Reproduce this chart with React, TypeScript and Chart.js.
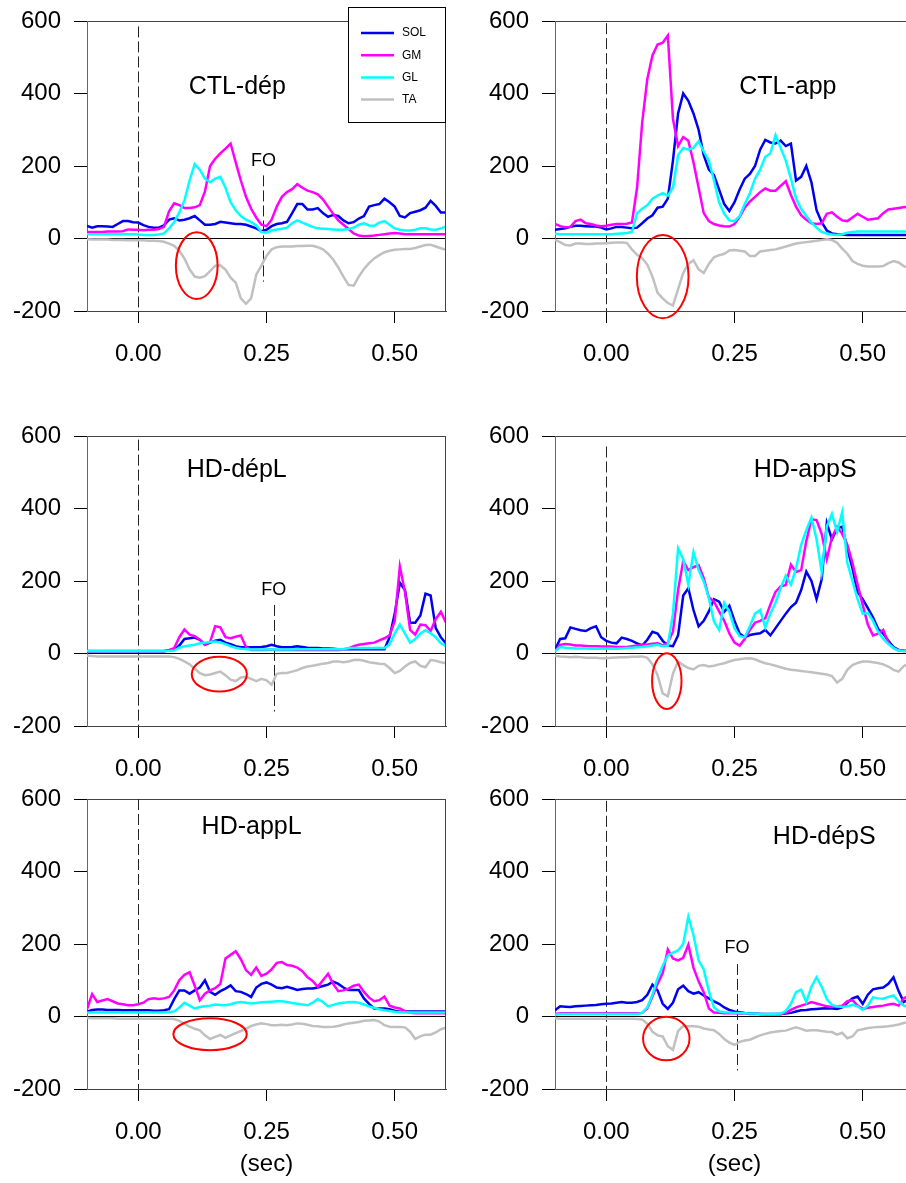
import React, { useEffect, useRef } from "react";
import { Chart, registerables } from "chart.js";

Chart.register(...registerables);

// ---------- data ----------
const TIME = [
  -0.10, -0.09, -0.08, -0.07, -0.06, -0.05, -0.04, -0.03, -0.02, -0.01,
  0.00, 0.01, 0.02, 0.03, 0.04, 0.05, 0.06, 0.07, 0.08, 0.09,
  0.10, 0.11, 0.12, 0.13, 0.14, 0.15, 0.16, 0.17, 0.18, 0.19,
  0.20, 0.21, 0.22, 0.23, 0.24, 0.25, 0.26, 0.27, 0.28, 0.29,
  0.30, 0.31, 0.32, 0.33, 0.34, 0.35, 0.36, 0.37, 0.38, 0.39,
  0.40, 0.41, 0.42, 0.43, 0.44, 0.45, 0.46, 0.47, 0.48, 0.49,
  0.50, 0.51, 0.52, 0.53, 0.54, 0.55, 0.56, 0.57, 0.58, 0.59,
  0.60,
];
const X_TICKS = [0, 0.25, 0.5];
const MUSCLES = ["SOL", "GM", "GL", "TA"];

// CTL-dép
const CTL_DEP_SOL = [
  35, 30, 34, 34, 33, 32, 40, 48, 48, 45,
  44, 37, 32, 30, 30, 36, 52, 56, 50, 52,
  56, 62, 50, 38, 38, 40, 46, 44, 42, 40,
  40, 38, 33, 28, 20, 24, 34, 40, 42, 46,
  70, 95, 95, 80, 80, 84, 70, 60, 65, 62,
  50, 42, 45, 55, 62, 88, 92, 95, 110, 100,
  88, 62, 58, 70, 74, 78, 85, 104, 90, 72,
  72,
];
const CTL_DEP_GM = [
  18, 18, 18, 18, 19, 19, 19, 20, 25, 24,
  24, 23, 24, 24, 26, 32, 75, 97, 92, 84,
  84, 86, 92, 130, 200, 220, 235, 248, 262, 210,
  160, 115, 82, 58, 38, 34, 52, 88, 115, 128,
  136, 150, 140, 132, 128, 122, 108, 88, 68, 50,
  38, 26, 14, 8, 6, 7, 8, 10, 12, 14,
  15, 14, 12, 12, 12, 12, 12, 12, 12, 12,
  12,
];
const CTL_DEP_GL = [
  12, 12, 12, 12, 12, 12, 12, 12, 12, 12,
  11, 10, 10, 10, 11, 14, 28, 45, 72, 105,
  160, 205, 190, 165, 155, 165, 170, 140, 100, 78,
  62, 52, 45, 36, 18, 16, 22, 25, 27, 30,
  42, 50, 44, 38, 32, 28, 27, 26, 25, 24,
  24, 26, 30, 38, 42, 36, 35, 44, 48, 38,
  28, 24, 22, 22, 24, 28, 28, 25, 24, 28,
  33,
];
const CTL_DEP_TA = [
  -2, -3, -3, -3, -3, -4, -4, -4, -5, -5,
  -5, -5, -6, -6, -7, -9, -14, -20, -34, -55,
  -85, -105, -108, -104, -90, -75, -74, -86, -108, -122,
  -165, -180, -165, -100, -75, -48, -30, -24, -22, -22,
  -22, -21, -21, -20, -20, -24, -30, -42, -58, -80,
  -105, -128, -130, -105, -84, -68, -55, -46, -38, -34,
  -31, -30, -29, -29, -26, -22, -18, -17, -22, -27,
  -31,
];

// CTL-app
const CTL_APP_SOL = [
  24, 26, 28, 32, 35, 35, 34, 33, 33, 30,
  25, 28, 32, 32, 30, 28, 30, 42, 55, 64,
  85, 88, 110, 215, 345, 400, 380, 345, 300, 230,
  190, 175, 135, 95, 76, 100, 135, 165, 178, 200,
  245, 272, 265, 262, 270, 255, 262, 160, 170, 200,
  155, 78, 45, 22, 14, 12, 11, 10, 10, 10,
  10, 10, 10, 10, 10, 10, 10, 10, 10, 10,
  10,
];
const CTL_APP_GM = [
  40, 34, 31, 32, 48, 52, 42, 40, 36, 34,
  35, 38, 40, 40, 41, 44, 140, 320, 440, 505,
  535, 540, 560, 330, 255, 280, 270, 210, 140, 70,
  48, 40, 36, 34, 33, 40, 60, 85, 102, 115,
  128, 138, 132, 132, 145, 158, 120, 88, 64, 52,
  42, 40, 42, 68, 72, 60, 50, 48, 58, 68,
  60, 52, 54, 56, 70, 80, 82, 84, 86, 88,
  88,
];
const CTL_APP_GL = [
  13, 12, 12, 12, 12, 12, 12, 12, 12, 12,
  12, 12, 13, 14, 15, 18, 70, 82, 92, 110,
  118, 125, 118, 140, 230, 250, 245, 250, 268, 240,
  215, 160, 100, 68, 50, 48, 62, 95, 125, 165,
  190, 225, 235, 285, 250, 215, 165, 110, 82, 62,
  44, 30, 18, 14, 11, 10, 12, 16, 18, 19,
  19, 19, 19, 19, 19, 19, 19, 19, 19, 19,
  19,
];
const CTL_APP_TA = [
  -4, -10, -18, -19, -14, -14, -15, -15, -14, -14,
  -13, -12, -11, -11, -12, -30, -45, -54, -72, -105,
  -150, -165, -178, -185, -140, -95, -70, -60, -85, -95,
  -70, -52, -46, -42, -33, -32, -34, -36, -48, -48,
  -36, -34, -32, -30, -26, -22, -18, -14, -12, -10,
  -8, -6, -4, -2, -4, -12, -28, -42, -62, -70,
  -75, -77, -77, -77, -76, -68, -62, -66, -76, -82,
  -84,
];

// HD-dépL
const HD_DEPL_SOL = [
  6, 6, 6, 6, 6, 6, 6, 6, 6, 6,
  6, 6, 6, 6, 6, 6, 8, 10, 22, 40,
  42, 44, 38, 24, 30, 35, 38, 30, 26, 20,
  17, 17, 17, 17, 18, 20, 24, 20, 17, 17,
  18, 20, 18, 16, 15, 15, 14, 14, 13, 12,
  12, 12, 12, 12, 12, 12, 12, 12, 12, 45,
  110, 195, 175, 85, 85, 105, 165, 160, 70, 45,
  28,
];
const HD_DEPL_GM = [
  7, 7, 7, 7, 7, 7, 7, 7, 7, 7,
  7, 7, 7, 7, 7, 7, 10, 15, 45, 66,
  52, 48, 38, 24, 32, 75, 72, 45, 42, 46,
  50, 18, 10, 10, 10, 10, 11, 10, 10, 10,
  10, 10, 10, 10, 10, 10, 10, 10, 10, 10,
  12, 14, 20, 24, 26, 28, 30, 36, 42, 50,
  90, 240, 170, 65, 52, 80, 78, 62, 95, 115,
  85,
];
const HD_DEPL_GL = [
  7, 7, 7, 7, 7, 7, 7, 7, 7, 7,
  7, 7, 7, 7, 7, 7, 7, 8, 16, 20,
  22, 24, 28, 30, 32, 33, 30, 26, 20, 16,
  13, 12, 11, 11, 11, 11, 11, 11, 11, 11,
  11, 12, 12, 12, 12, 12, 12, 12, 12, 12,
  12, 15, 15, 15, 15, 15, 15, 15, 15, 25,
  55, 80, 55, 30, 40, 55, 64, 56, 45, 28,
  20,
];
const HD_DEPL_TA = [
  -6, -7, -8, -8, -8, -8, -8, -8, -8, -8,
  -8, -8, -8, -8, -8, -8, -8, -10, -15, -22,
  -30, -42, -54, -60, -58, -54, -50, -60, -72, -76,
  -66, -64, -70, -76, -70, -74, -86, -56, -54, -54,
  -50, -46, -40, -36, -34, -31, -28, -26, -22, -22,
  -24, -22, -18, -17, -20, -24, -26, -28, -29, -40,
  -54, -48, -36, -26, -22, -34, -38, -18, -20, -24,
  -27,
];

// HD-appS
const HD_APPS_SOL = [
  10, 40, 42, 72, 68, 64, 62, 70, 75, 45,
  35, 30, 28, 44, 40, 35, 28, 22, 38, 60,
  55, 35, 22, 20, 50, 160, 180, 120, 75, 90,
  116, 150, 143, 115, 132, 90, 55, 45, 51, 54,
  56, 65, 50, 70, 90, 110, 128, 140, 175, 226,
  200, 150, 205, 360, 315, 345, 350, 290, 235, 170,
  150, 125, 100, 68, 55, 35, 18, 10, 8, 7,
  7,
];
const HD_APPS_GM = [
  6, 24, 26, 25, 22, 22, 21, 20, 20, 19,
  19, 19, 18, 18, 18, 20, 22, 24, 25, 27,
  28, 22, 30, 60, 175, 255, 230, 238, 244, 208,
  155, 143, 116, 90, 55, 30, 22, 40, 65, 85,
  90, 97, 135, 170, 185, 189, 245, 225, 230, 310,
  370, 368, 330, 260, 320, 350, 330, 300, 250, 190,
  134, 80, 50, 55, 65, 30, 15, 8, 7, 7,
  7,
];
const HD_APPS_GL = [
  6, 18, 16, 15, 14, 14, 14, 13, 13, 13,
  13, 13, 13, 14, 15, 16, 17, 18, 20, 22,
  24, 20, 22, 110, 290, 260, 190, 280, 230, 199,
  153, 88, 65, 140, 115, 70, 48, 45, 75, 110,
  120, 72, 110, 140, 180, 215, 190, 235, 300, 340,
  375, 315, 225, 350, 385, 335, 390, 250, 200, 150,
  110, 112, 90, 60, 40, 26, 15, 8, 7, 7,
  7,
];
const HD_APPS_TA = [
  -6, -8, -9, -10, -9, -10, -12, -12, -12, -13,
  -13, -12, -11, -10, -10, -9, -9, -8, -12, -30,
  -60, -110, -118, -55, -22, -32, -40, -44, -34, -32,
  -36, -34, -30, -27, -22, -18, -16, -14, -13, -16,
  -22, -27, -30, -34, -38, -42, -45, -46, -48, -50,
  -52, -54, -56, -58, -62, -80, -70, -45, -32, -26,
  -22, -22, -24, -26, -30, -36, -45, -50, -35, -27,
  -25,
];

// HD-appL
const HD_APPL_SOL = [
  13, 18, 19, 19, 18, 18, 18, 17, 17, 17,
  17, 17, 17, 16, 16, 17, 20, 48, 72, 72,
  63, 72, 80, 100, 68, 60, 70, 77, 86, 70,
  68, 62, 54, 80, 90, 94, 88, 80, 78, 82,
  78, 73, 76, 77, 77, 80, 84, 88, 96, 90,
  80, 73, 73, 73, 50, 35, 22, 22, 22, 20,
  16, 13, 14, 14, 14, 14, 14, 14, 14, 14,
  14,
];
const HD_APPL_GM = [
  20, 62, 40, 44, 48, 42, 36, 34, 31, 31,
  34, 38, 48, 50, 48, 50, 54, 72, 100, 115,
  122, 85, 45, 63, 72, 78, 90, 160, 170, 180,
  158, 128, 115, 135, 112, 118, 130, 148, 150, 142,
  140, 135, 125, 108, 98, 82, 100, 118, 90, 70,
  72, 77, 85, 88, 68, 52, 42, 45, 55, 30,
  25, 22, 15, 10, 9, 9, 9, 9, 9, 9,
  9,
];
const HD_APPL_GL = [
  11, 11, 11, 11, 11, 11, 11, 11, 11, 11,
  11, 11, 11, 11, 11, 11, 12, 14, 25, 38,
  30, 22, 26, 28, 30, 33, 32, 31, 34, 38,
  40, 38, 36, 37, 39, 40, 41, 42, 42, 40,
  37, 35, 33, 31, 38, 48, 40, 28, 32, 36,
  38, 39, 40, 38, 33, 28, 24, 20, 17, 15,
  13, 12, 11, 11, 11, 11, 11, 11, 11, 11,
  11,
];
const HD_APPL_TA = [
  -4, -5, -5, -5, -5, -5, -6, -6, -6, -6,
  -6, -6, -6, -6, -6, -6, -6, -7, -12, -20,
  -28, -34, -38, -52, -62, -56, -51, -59, -52, -46,
  -40, -34, -26, -22, -19, -21, -24, -24, -23, -24,
  -22, -19, -20, -23, -26, -27, -29, -29, -28, -26,
  -22, -19, -17, -15, -12, -11, -10, -14, -24, -28,
  -29, -29, -30, -42, -62, -55, -50, -50, -44, -35,
  -31,
];

// HD-dépS
const HD_DEPS_SOL = [
  17, 28, 27, 26, 28, 29, 30, 31, 32, 34,
  35, 36, 38, 40, 38, 38, 40, 45, 60, 88,
  72, 35, 21, 38, 75, 85, 70, 63, 67, 58,
  50, 42, 35, 25, 18, 14, 12, 10, 9, 8,
  7, 7, 7, 7, 7, 8, 10, 14, 17, 18,
  20, 21, 22, 23, 22, 21, 25, 38, 50, 55,
  35, 60, 75, 78, 80, 90, 108, 70, 40, 48,
  50,
];
const HD_DEPS_GM = [
  7, 9, 9, 9, 9, 9, 9, 9, 9, 9,
  9, 9, 9, 9, 9, 9, 9, 10, 22, 55,
  90, 120, 185, 160, 155, 162, 198, 135, 97, 67,
  22, 11, 10, 9, 9, 9, 8, 8, 7, 7,
  7, 6, 6, 6, 6, 10, 18, 25, 30, 34,
  40, 36, 32, 28, 26, 28, 30, 42, 45, 30,
  21, 24, 26, 28, 30, 33, 35, 30, 50, 58,
  58,
];
const HD_DEPS_GL = [
  5, 7, 7, 7, 7, 7, 7, 7, 7, 7,
  7, 7, 7, 7, 7, 7, 7, 10, 25, 60,
  105, 140, 168, 176, 182, 200, 275, 225, 155, 130,
  70, 25, 14, 12, 11, 10, 10, 9, 8, 8,
  7, 7, 7, 7, 8, 15, 35, 67, 74, 40,
  82, 108, 82, 48, 32, 28, 26, 28, 32, 28,
  18, 30, 53, 50, 49, 54, 58, 42, 30, 26,
  25,
];
const HD_DEPS_TA = [
  -5, -6, -6, -6, -6, -6, -6, -6, -6, -6,
  -6, -6, -6, -6, -6, -6, -7, -8, -20, -42,
  -52, -55, -82, -92, -40, -26, -27, -27, -28, -33,
  -36, -38, -48, -62, -72, -78, -70, -66, -64, -58,
  -52, -48, -44, -42, -40, -39, -34, -30, -34, -39,
  -38, -38, -40, -42, -43, -50, -45, -60, -55, -38,
  -35, -32, -30, -29, -28, -27, -25, -22, -18, -16,
  -15,
];

// ---------- style / layout ----------
const FONT = '"Liberation Sans", Arial, Helvetica, sans-serif';
const COLORS = ["#0000f0", "#ff00ff", "#00ffff", "#c0c0c0"];
const DRAW_ORDER = [2, 1, 0, 3];
const CANVAS_W = 460;
const COL_LEFT = [0, 468];
// y-axis label overhang (half label height 12 + padding 13) puts the plot top 25px into the canvas
const ROW_TOP = [-4, 411, 774];
const ROW_H = [375, 375, 409];
const X_AXIS_H = [60, 60, 94];

type Panel = {
  title: string;
  series: number[][];
  col: number;
  row: number;
  titleAt: [number, number];
  onsetTop: number;
  fo?: { x: number; top: number; bottom: number; labelY: number };
  ellipse: { x: number; y: number; rx: number; ry: number };
  legend?: boolean;
};

const PANELS: Panel[] = [
  {
    title: "CTL-dép", series: [CTL_DEP_SOL, CTL_DEP_GM, CTL_DEP_GL, CTL_DEP_TA],
    col: 0, row: 0, titleAt: [0.193, 419], onsetTop: 585,
    fo: { x: 0.244, top: 174, bottom: -119, labelY: 215 },
    ellipse: { x: 0.114, y: -75, rx: 0.0407, ry: 92 }, legend: true,
  },
  {
    title: "CTL-app", series: [CTL_APP_SOL, CTL_APP_GM, CTL_APP_GL, CTL_APP_TA],
    col: 1, row: 0, titleAt: [0.354, 419], onsetTop: 594,
    ellipse: { x: 0.110, y: -105, rx: 0.0504, ry: 115 },
  },
  {
    title: "HD-dépL", series: [HD_DEPL_SOL, HD_DEPL_GM, HD_DEPL_GL, HD_DEPL_TA],
    col: 0, row: 1, titleAt: [0.192, 507], onsetTop: 590,
    fo: { x: 0.264, top: 134, bottom: -160, labelY: 176 },
    ellipse: { x: 0.158, y: -57, rx: 0.0537, ry: 48 },
  },
  {
    title: "HD-appS", series: [HD_APPS_SOL, HD_APPS_GM, HD_APPS_GL, HD_APPS_TA],
    col: 1, row: 1, titleAt: [0.388, 507], onsetTop: 571,
    ellipse: { x: 0.118, y: -76, rx: 0.0287, ry: 77 },
  },
  {
    title: "HD-appL", series: [HD_APPL_SOL, HD_APPL_GM, HD_APPL_GL, HD_APPL_TA],
    col: 0, row: 2, titleAt: [0.221, 523], onsetTop: 600,
    ellipse: { x: 0.140, y: -49, rx: 0.0716, ry: 44 },
  },
  {
    title: "HD-dépS", series: [HD_DEPS_SOL, HD_DEPS_GM, HD_DEPS_GL, HD_DEPS_TA],
    col: 1, row: 2, titleAt: [0.425, 495], onsetTop: 595,
    fo: { x: 0.255, top: 145, bottom: -149, labelY: 188 },
    ellipse: { x: 0.117, y: -61, rx: 0.0453, ry: 60 },
  },
];

function makeDecor(p: Panel) {
  return {
    id: "decor",
    beforeDatasetsDraw(chart: any) {
      const { ctx, chartArea: a, scales } = chart;
      const xs = scales.x;
      const ys = scales.y;
      ctx.save();
      ctx.strokeStyle = "#222";
      ctx.lineWidth = 1;
      ctx.setLineDash([11, 4]);
      const x0 = Math.round(xs.getPixelForValue(0)) + 0.5;
      ctx.beginPath();
      ctx.moveTo(x0, ys.getPixelForValue(p.onsetTop));
      ctx.lineTo(x0, a.bottom);
      ctx.stroke();
      if (p.fo) {
        const xf = Math.round(xs.getPixelForValue(p.fo.x)) + 0.5;
        ctx.beginPath();
        ctx.moveTo(xf, ys.getPixelForValue(p.fo.top));
        ctx.lineTo(xf, ys.getPixelForValue(p.fo.bottom));
        ctx.stroke();
      }
      ctx.restore();
    },
    afterDatasetsDraw(chart: any) {
      const { ctx, chartArea: a, scales } = chart;
      const xs = scales.x;
      const ys = scales.y;
      ctx.save();
      // right frame
      ctx.strokeStyle = "#444";
      ctx.lineWidth = 1;
      const xr = Math.round(a.right) - 0.5;
      ctx.beginPath();
      ctx.moveTo(xr, a.top);
      ctx.lineTo(xr, a.bottom);
      ctx.stroke();
      // ellipse
      const e = p.ellipse;
      const cx = xs.getPixelForValue(e.x);
      const cy = ys.getPixelForValue(e.y);
      const rx = Math.abs(xs.getPixelForValue(e.x + e.rx) - cx);
      const ry = Math.abs(ys.getPixelForValue(e.y + e.ry) - cy);
      ctx.strokeStyle = "#ff0000";
      ctx.lineWidth = 2;
      ctx.beginPath();
      ctx.ellipse(cx, cy, rx, ry, 0, 0, Math.PI * 2);
      ctx.stroke();
      // title
      ctx.fillStyle = "#000";
      ctx.textAlign = "center";
      ctx.textBaseline = "middle";
      ctx.font = `25px ${FONT}`;
      ctx.fillText(p.title, xs.getPixelForValue(p.titleAt[0]), ys.getPixelForValue(p.titleAt[1]));
      // FO label
      if (p.fo) {
        ctx.font = `18px ${FONT}`;
        ctx.fillText("FO", xs.getPixelForValue(p.fo.x), ys.getPixelForValue(p.fo.labelY));
      }
      // legend
      if (p.legend) {
        const bw = 98;
        const bh = 115;
        const bx = Math.round(a.right) - bw;
        const by = Math.round(a.top) - 14;
        ctx.fillStyle = "#fff";
        ctx.fillRect(bx, by, bw, bh);
        ctx.strokeStyle = "#000";
        ctx.lineWidth = 1;
        ctx.strokeRect(bx + 0.5, by + 0.5, bw - 1, bh);
        chart.data.datasets.forEach((ds: any, i: number) => {
          const ly = by + 26 + i * 22.2;
          ctx.strokeStyle = ds.borderColor;
          ctx.lineWidth = 2.5;
          ctx.beginPath();
          ctx.moveTo(bx + 13, ly);
          ctx.lineTo(bx + 46, ly);
          ctx.stroke();
          ctx.fillStyle = "#000";
          ctx.font = `12px ${FONT}`;
          ctx.textAlign = "left";
          ctx.textBaseline = "middle";
          ctx.fillText(ds.label, bx + 54, ly);
        });
      }
      ctx.restore();
    },
  };
}

function PanelChart({ panel }: { panel: Panel }) {
  const ref = useRef<HTMLCanvasElement | null>(null);
  const bottomRow = panel.row === 2;
  const height = ROW_H[panel.row];

  useEffect(() => {
    if (!ref.current) return;
    const chart = new Chart(ref.current, {
      type: "line",
      data: {
        datasets: panel.series.map((vals, i) => ({
          label: MUSCLES[i],
          data: TIME.map((t, k) => ({ x: t, y: vals[k] })),
          borderColor: COLORS[i],
          backgroundColor: COLORS[i],
          borderWidth: 2.5,
          pointRadius: 0,
          tension: 0,
          fill: false,
          order: DRAW_ORDER[i],
        })),
      },
      options: {
        responsive: false,
        animation: false,
        devicePixelRatio: 1,
        events: [],
        layout: { padding: { top: 0, right: 14, left: 0, bottom: 0 } },
        plugins: { legend: { display: false }, tooltip: { enabled: false } },
        scales: {
          x: {
            type: "linear",
            min: -0.1,
            max: 0.6,
            afterBuildTicks: (s: any) => {
              s.ticks = X_TICKS.map((v) => ({ value: v }));
            },
            afterFit: (s: any) => {
              s.height = X_AXIS_H[panel.row];
            },
            grid: {
              display: true,
              drawOnChartArea: false,
              drawTicks: true,
              tickLength: 12,
              tickColor: "#000",
            },
            border: { display: true, color: "#444", width: 1 },
            ticks: {
              autoSkip: false,
              maxRotation: 0,
              padding: 17,
              color: "#000",
              font: { size: 24, family: FONT },
              callback: (v: any) => Number(v).toFixed(2),
            },
            title: {
              display: bottomRow,
              text: "(sec)",
              color: "#000",
              font: { size: 24, family: FONT },
              padding: { top: 0, bottom: 4 },
            },
          },
          y: {
            type: "linear",
            min: -200,
            max: 600,
            afterFit: (s: any) => {
              s.width = 87;
            },
            grid: {
              display: true,
              drawOnChartArea: true,
              drawTicks: true,
              tickLength: 13,
              tickColor: "#000",
              color: (c: any) =>
                c.tick && c.tick.value === 0
                  ? "#000"
                  : c.tick && (c.tick.value === 600 || c.tick.value === -200)
                  ? "#444"
                  : "rgba(0,0,0,0)",
            },
            border: { display: true, color: "#666", width: 1 },
            ticks: {
              stepSize: 200,
              padding: 13,
              color: "#000",
              font: { size: 24, family: FONT, lineHeight: 1 },
            },
          },
        },
      },
      plugins: [makeDecor(panel)],
    } as any);
    return () => chart.destroy();
  }, []);

  return (
    <canvas
      ref={ref}
      width={CANVAS_W}
      height={height}
      style={{
        position: "absolute",
        left: COL_LEFT[panel.col],
        top: ROW_TOP[panel.row],
        width: CANVAS_W,
        height,
      }}
    />
  );
}

export default function App() {
  return (
    <div
      style={{
        position: "absolute",
        left: 0,
        top: 0,
        width: 906,
        height: 1183,
        overflow: "hidden",
        background: "#fff",
      }}
    >
      {PANELS.map((p, i) => (
        <PanelChart key={i} panel={p} />
      ))}
    </div>
  );
}
